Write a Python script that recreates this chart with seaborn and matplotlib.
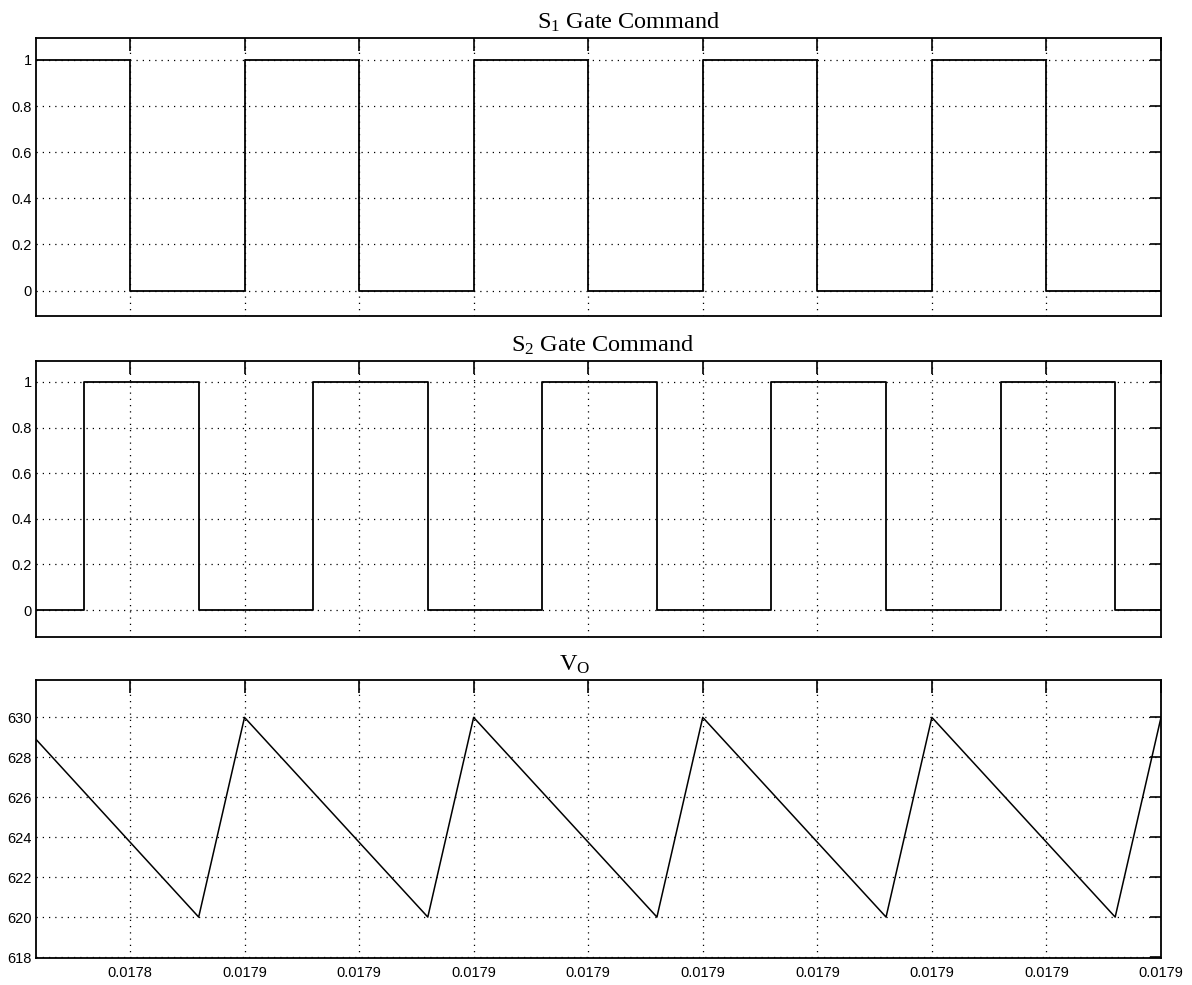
"""
Три осциллограммы: управляющие сигналы ключей S1, S2 и выходное напряжение Vo.
"""
import numpy as np
import pandas as pd
import matplotlib
matplotlib.use("Agg")
import matplotlib.pyplot as plt
import seaborn as sns

t_left = 0.0178409
t_right = 0.01789

# Моменты переключения S1 и уровни после них
s1_time = [0.0178409, 0.017845, 0.017850, 0.017855, 0.017860, 0.017865,
           0.017870, 0.017875, 0.017880, 0.017885, 0.017890]
s1_level = [1, 0, 1, 0, 1, 0, 1, 0, 1, 0, 0]

# Моменты переключения S2 и уровни после них
s2_time = [0.0178409, 0.017843, 0.017848, 0.017853, 0.017858, 0.017863,
           0.017868, 0.017873, 0.017878, 0.017883, 0.017888, 0.017890]
s2_level = [0, 1, 0, 1, 0, 1, 0, 1, 0, 1, 0, 0]

# Вершины пилообразного выходного напряжения
vo_time = [0.0178409, 0.017848, 0.017850, 0.017858, 0.017860, 0.017868,
           0.017870, 0.017878, 0.017880, 0.017888, 0.017890]
vo_value = [628.9, 620, 630, 620, 630, 620, 630, 620, 630, 620, 630]

# Подписи осей
x_ticks = [0.017845, 0.017850, 0.017855, 0.017860, 0.017865,
           0.017870, 0.017875, 0.017880, 0.017885, 0.017890]
x_tick_labels = ['0.0178'] + ['0.0179'] * 9
gate_ticks = [0, 0.2, 0.4, 0.6, 0.8, 1]
gate_tick_labels = ['0', '0.2', '0.4', '0.6', '0.8', '1']
vo_ticks = [618, 620, 622, 624, 626, 628, 630]
vo_tick_labels = ['618', '620', '622', '624', '626', '628', '630']

titles = ['S$_1$ Gate Command', 'S$_2$ Gate Command', r'V$_\mathrm{O}$']
# в оригинале заголовки стоят не строго по центру осей
title_x = [0.527, 0.504, 0.479]


def style_axes(ax, yticks, ylabels, ylim, show_x_labels):
    """Оформление осей в стиле MATLAB: рамка, засечки внутрь, точечная сетка."""
    ax.set_xlim(t_left, t_right)
    ax.set_ylim(*ylim)
    ax.set_xticks(x_ticks)
    ax.set_xticklabels(x_tick_labels if show_x_labels else [])
    ax.set_yticks(yticks)
    ax.set_yticklabels(ylabels)
    ax.set_xlabel('')
    ax.set_ylabel('')
    ax.tick_params(axis='both', direction='in', top=True, right=True,
                   width=1.2, colors='black', labelsize=10.5,
                   labelfontfamily=['Liberation Sans', 'DejaVu Sans'])
    ax.tick_params(axis='x', length=9.5, pad=6)
    ax.tick_params(axis='y', length=8, pad=3)
    ax.grid(True, color='black', linestyle=(0, (1, 4)), linewidth=0.9)
    for spine in ax.spines.values():
        spine.set_visible(True)
        spine.set_linewidth(1.3)
        spine.set_color('black')


def main():
    sns.set_style('white')
    plt.rcParams['mathtext.fontset'] = 'custom'
    plt.rcParams['mathtext.rm'] = 'Liberation Serif'
    plt.rcParams['mathtext.it'] = 'Liberation Serif:italic'

    fig = plt.figure(figsize=(11.92, 9.85), dpi=100)
    ax1 = fig.add_axes([0.0302, 0.6792, 0.9438, 0.2822])
    ax2 = fig.add_axes([0.0302, 0.3533, 0.9438, 0.2802])
    ax3 = fig.add_axes([0.0302, 0.0274, 0.9438, 0.2822])

    df1 = pd.DataFrame({'t': s1_time, 'v': s1_level})
    df2 = pd.DataFrame({'t': s2_time, 'v': s2_level})
    df3 = pd.DataFrame({'t': vo_time, 'v': vo_value})

    sns.lineplot(data=df1, x='t', y='v', ax=ax1, color='black',
                 linewidth=1.3, drawstyle='steps-post')
    sns.lineplot(data=df2, x='t', y='v', ax=ax2, color='black',
                 linewidth=1.3, drawstyle='steps-post')
    sns.lineplot(data=df3, x='t', y='v', ax=ax3, color='black', linewidth=1.1)

    style_axes(ax1, gate_ticks, gate_tick_labels, (-0.11, 1.095), False)
    style_axes(ax2, gate_ticks, gate_tick_labels, (-0.118, 1.092), False)
    style_axes(ax3, vo_ticks, vo_tick_labels, (617.95, 631.87), True)

    for ax, title, tx in zip([ax1, ax2, ax3], titles, title_x):
        ax.set_title(title, fontsize=17.5, family='Liberation Serif',
                     color='black', pad=7, x=tx)

    fig.savefig('out.png', dpi=100)


if __name__ == "__main__":
    main()
